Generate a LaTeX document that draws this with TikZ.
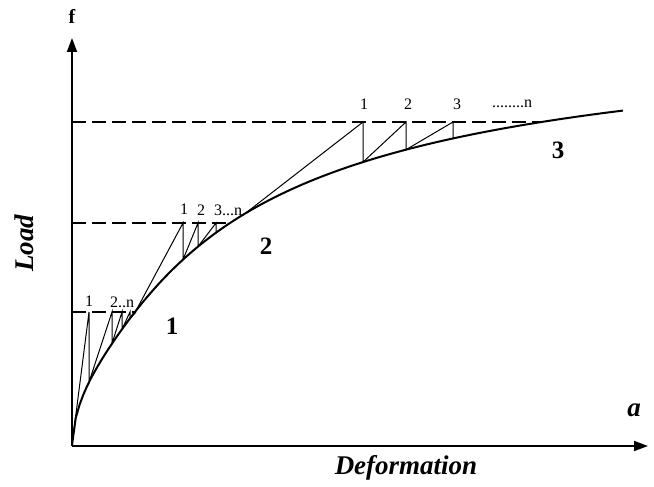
\documentclass[tikz,border=0pt]{standalone}
\usepackage{fontspec}
\setmainfont{Liberation Serif}
\usetikzlibrary{arrows.meta,positioning}

\begin{document}
\begin{tikzpicture}[
  x=1pt, y=-1pt,
  >={Triangle[length=14pt,width=10pt]},
  declare function={ld(\u)=445-(420*((\u-72)/(\u-72+141))+10*sqrt(\u-72)*exp(-(\u-72)/20));},
  axis/.style={->,line width=1.8pt},
  loadcurve/.style={line width=2pt},
  level/.style={dash pattern=on 14pt off 6pt,line width=1.2pt},
  tooth/.style={line width=1pt},
  bigtext/.style={font=\fontsize{27}{30}\selectfont\bfseries\itshape},
  zone/.style={font=\fontsize{25}{28}\selectfont\bfseries},
  count/.style={font=\fontsize{16}{18}\selectfont,inner sep=1pt}
]
\useasboundingbox (0,0) rectangle (654,487);

\coordinate (O) at (72,446);
\coordinate (ytip) at (72,38);
\coordinate (xtip) at (648,446);
\draw[axis] (O) -- (ytip);
\draw[axis] (O) -- (xtip);

\node[font=\fontsize{20}{22}\selectfont\bfseries] (f) at (72,16) {f};
\node[bigtext] (a) at (634,410) {a};
\node[bigtext] (deform) at (406,468) {Deformation};
\node[bigtext,rotate=90] (load) at (24,243) {Load};

% load levels
\draw[level] (72,312) -- (136,312);
\draw[level] (72,223) -- (230,223);
\draw[level] (72,122) -- (541,122);

% the curve
\draw[loadcurve] plot[domain=72:623,samples=150] (\x,{ld(\x)});

% steps at each level
\draw[tooth] (72,445) -- (89,312) -- (89,{ld(89)}) -- (112,312) -- (112,{ld(112)})
  -- (122,312) -- (122,{ld(122)}) -- (130,312) -- (130,{ld(130)}) -- (136,312);
\draw[tooth] (136,{ld(136)}) -- (183,223) -- (183,{ld(183)}) -- (198,223) -- (198,{ld(198)})
  -- (216,223) -- (216,{ld(216)}) -- (230,223);
\draw[tooth] (245,{ld(245)}) -- (363,122) -- (363,{ld(363)}) -- (406,122) -- (406,{ld(406)})
  -- (453,122) -- (453,{ld(453)});

\node[count] (c11) at (89,301) {1};
\node[count] (c1n) at (122,302) {2..n};
\node[count] (c21) at (184,209) {1};
\node[count] (c22) at (201,210) {2};
\node[count] (c2n) at (228,210) {3...n};
\node[count] (c31) at (364,104) {1};
\node[count] (c32) at (408,104) {2};
\node[count] (c33) at (457,104) {3};
\node[count] (c3n) at (512,104) {........n};

\node[zone] (zone1) at (172,326) {1};
\node[zone] (zone2) at (266,246) {2};
\node[zone] (zone3) at (558,150) {3};
\end{tikzpicture}
\end{document}
